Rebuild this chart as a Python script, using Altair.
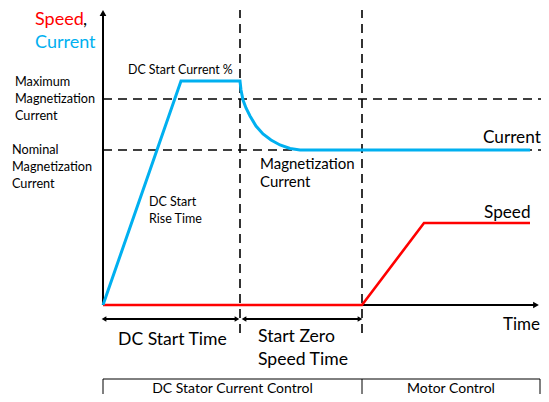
import altair as alt
import pandas as pd

FONT = "Lato"
BLUE = "#00B0F0"
RED = "#FF0000"

# ---- data (time units on x, value units on y) ----
current_t = [0, 7.8, 13.7, 13.8, 14.0, 14.3, 14.7, 15.3, 16.0, 16.8, 17.7, 18.7, 19.7, 42.7]
current_v = [0, 22.4, 22.4, 21.5, 20.5, 19.7, 18.9, 17.9, 17.1, 16.5, 16.0, 15.65, 15.5, 15.5]

speed_t = [0, 25.9, 32.1, 42.7]
speed_v = [0, 0, 8.2, 8.2]

level_names = ["Maximum", "Nominal"]
level_values = [20.6, 15.5]
level_end = 43.8

phase_bounds = [13.7, 25.9]
vline_top = 29.5
vline_bottom = -2.8

axis_top = 29.2
axis_right = 43.3

span_start = [0.1, 14.1]
span_end = [13.4, 25.7]
span_y = -1.4

table_left = 0
table_mid = 25.9
table_right = 43.7
table_top = -7.4
table_bottom = -10.0
table_labels = ["DC Stator Current Control", "Motor Control"]
table_label_y = -8.75

XD = [-9.5, 43.8]
YD = [-8.9, 29.7]

W, H = 533, 386

xs = alt.Scale(domain=XD, nice=False, zero=False)
ys = alt.Scale(domain=YD, nice=False, zero=False)
X = lambda f: alt.X(f, type="quantitative", scale=xs, axis=None)
Y = lambda f: alt.Y(f, type="quantitative", scale=ys, axis=None)

cur_df = pd.DataFrame({"t": current_t, "v": current_v, "o": range(len(current_t))})
spd_df = pd.DataFrame({"t": speed_t, "v": speed_v, "o": range(len(speed_t))})

# dashed horizontal levels
lev_df = pd.DataFrame({"name": level_names, "v": level_values, "x0": 0, "x1": level_end})
hdash = alt.Chart(lev_df).mark_rule(color="black", strokeWidth=1.6, strokeDash=[9, 6]).encode(
    x=X("x0"), x2="x1", y=Y("v"))

# dashed vertical phase boundaries
vb_df = pd.DataFrame({"t": phase_bounds, "y0": vline_bottom, "y1": vline_top})
vdash = alt.Chart(vb_df).mark_rule(color="black", strokeWidth=1.6, strokeDash=[9, 6]).encode(
    x=X("t"), y=Y("y0"), y2="y1")

# axes
ax_df = pd.DataFrame({"x0": [0, 0], "x1": [0, axis_right], "y0": [0, 0], "y1": [axis_top, 0]})
axes = alt.Chart(ax_df).mark_rule(color="black", strokeWidth=2).encode(
    x=X("x0"), x2="x1", y=Y("y0"), y2="y1")
ah_df = pd.DataFrame({"x": [0, axis_right], "y": [axis_top, 0], "s": ["triangle-up", "triangle-right"]})
arrowheads = alt.Chart(ah_df).mark_point(filled=True, color="black", size=45, opacity=1).encode(
    x=X("x"), y=Y("y"), shape=alt.Shape("s:N", scale=None))

# span arrows
sp_df = pd.DataFrame({"x0": span_start, "x1": span_end, "y": span_y})
spans = alt.Chart(sp_df).mark_rule(color="black", strokeWidth=1.8).encode(
    x=X("x0"), x2="x1", y=Y("y"))
sh_df = pd.DataFrame({
    "x": span_start + span_end,
    "y": [span_y] * 4,
    "s": ["triangle-left"] * 2 + ["triangle-right"] * 2,
})
span_heads = alt.Chart(sh_df).mark_point(filled=True, color="black", size=30, opacity=1).encode(
    x=X("x"), y=Y("y"), shape=alt.Shape("s:N", scale=None))

# curves
speed_line = alt.Chart(spd_df).mark_line(color=RED, strokeWidth=2.6).encode(
    x=X("t"), y=Y("v"), order="o:Q")
current_line = alt.Chart(cur_df).mark_line(color=BLUE, strokeWidth=3).encode(
    x=X("t"), y=Y("v"), order="o:Q")

# table
tb_h = pd.DataFrame({"x0": [table_left], "x1": [table_right], "y": [table_top]})
tb_v = pd.DataFrame({"x": [table_left, table_mid, table_right], "y0": table_bottom, "y1": table_top})
table_h = alt.Chart(tb_h).mark_rule(color="black", strokeWidth=1).encode(x=X("x0"), x2="x1", y=Y("y"))
table_v = alt.Chart(tb_v).mark_rule(color="black", strokeWidth=1).encode(x=X("x"), y=Y("y0"), y2="y1")
tl_df = pd.DataFrame({
    "x": [(table_left + table_mid) / 2, (table_mid + table_right) / 2],
    "y": [table_label_y, table_label_y],
    "text": table_labels,
})
table_text = alt.Chart(tl_df).mark_text(font=FONT, fontSize=14, align="center", baseline="alphabetic",
                                        color="black").encode(x=X("x"), y=Y("y"), text="text:N")

# labels
labels = pd.DataFrame([
    (-6.8, 28.0, "Speed", RED, 18),
    (-2.0, 28.0, ",", "black", 18),
    (-6.8, 25.7, "Current", BLUE, 18),
    (-8.8, 21.9, "Maximum", "black", 12.7),
    (-8.8, 20.2, "Magnetization", "black", 12.7),
    (-8.8, 18.5, "Current", "black", 12.7),
    (-9.1, 15.1, "Nominal", "black", 12.7),
    (-9.1, 13.4, "Magnetization", "black", 12.7),
    (-9.1, 11.7, "Current", "black", 12.7),
    (2.5, 23.1, "DC Start Current %", "black", 12.4),
    (15.7, 13.6, "Magnetization", "black", 15),
    (15.7, 11.8, "Current", "black", 15),
    (4.6, 9.9, "DC Start", "black", 12.5),
    (4.6, 8.2, "Rise Time", "black", 12.5),
    (38.0, 16.2, "Current", "black", 17.2),
    (38.1, 8.7, "Speed", "black", 17.2),
    (40.0, -2.5, "Time", "black", 17),
    (1.5, -4.0, "DC Start Time", "black", 17.6),
    (15.5, -3.7, "Start Zero", "black", 17.6),
    (15.5, -6.0, "Speed Time", "black", 17.6),
], columns=["x", "y", "text", "color", "size"])
text_layer = alt.Chart(labels).mark_text(font=FONT, align="left", baseline="alphabetic").encode(
    x=X("x"), y=Y("y"), text="text:N",
    color=alt.Color("color:N", scale=None),
    size=alt.Size("size:Q", scale=None))

chart = alt.layer(
    hdash, vdash, axes, arrowheads, spans, span_heads, speed_line, current_line,
    table_h, table_v, table_text, text_layer,
).properties(
    width=W, height=H, autosize=alt.AutoSizeParams(type="none"), padding=0,
    background="white",
).configure_view(stroke=None)

chart.save("out.html", embed_options={"renderer": "svg", "actions": False})
